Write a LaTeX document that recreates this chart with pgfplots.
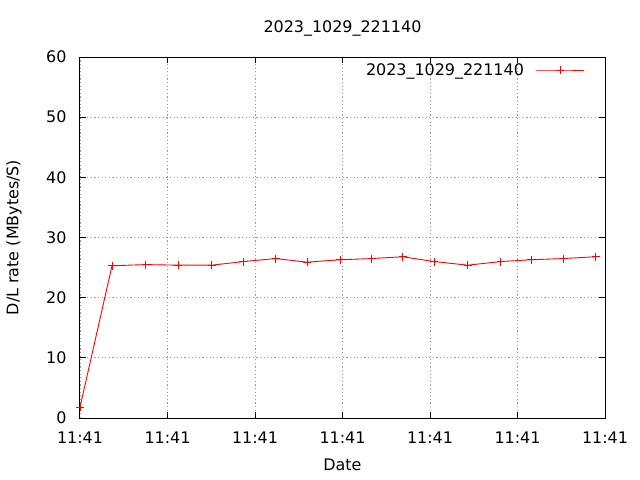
\documentclass[border=0pt]{standalone}
\usepackage{fontspec}
\setmainfont{DejaVu Sans}
\usepackage{pgfplots}
\pgfplotsset{compat=1.18}
\begin{document}
\begin{tikzpicture}
\begin{axis}[
  scale only axis,
  width=525bp, height=361bp,
  xmin=0, xmax=525, ymin=0, ymax=60,
  font=\fontsize{16}{19}\selectfont,
  /pgf/number format/assume math mode=true,
  xtick={0,87.5,175,262.5,350,437.5,525},
  xticklabels={11:41,11:41,11:41,11:41,11:41,11:41,11:41},
  ytick={0,10,20,30,40,50,60},
  tick align=inside,
  major tick length=6bp,
  axis line style={black, line width=1bp},
  tick style={black, line width=1bp},
  grid=major,
  major grid style={gray!80, dash pattern=on 1.2bp off 2.4bp, line width=0.8bp},
  title={2023\_1029\_221140},
  title style={at={(axis description cs:0.5,1)}, anchor=base, yshift=19bp, inner sep=0pt},
  xlabel={Date},
  xlabel style={at={(axis description cs:0.5,0)}, anchor=base, yshift=-52bp, inner sep=0pt},
  ylabel={D/L rate (MBytes/S)},
  ylabel style={at={(axis description cs:0,0.5)}, anchor=center, yshift=66bp, inner sep=0pt},
  yticklabel style={xshift=-10bp},
  xticklabel style={yshift=-10bp},
  legend plot pos=right,
  legend cell align=right,
  legend style={draw=none, fill=none, inner sep=0pt, at={(axis description cs:0.962,0.964)}, anchor=east,
    /tikz/every odd column/.append style={column sep=10bp}},
  legend image code/.code={\draw[mark repeat=2,mark phase=2] plot coordinates {(0bp,0bp) (24bp,0bp) (48bp,0bp)};},
]
\addplot[red, line width=0.9bp, mark=+, mark size=4bp, mark options={line width=0.9bp}] coordinates {
(0,1.8) (32,25.3) (65.7,25.5) (98.3,25.4) (131.7,25.4) (163.3,26.0) (195.7,26.5) (227,25.9) (260,26.3)
(291.7,26.5) (322.7,26.8) (354.3,26.0) (387.7,25.4) (420.7,26.0) (451,26.3) (483.3,26.5) (515.7,26.8)
};
\addlegendentry{2023\_1029\_221140}
\end{axis}
\pgfresetboundingbox
\path[use as bounding box] (-80bp,-62bp) rectangle (560bp,418bp);
\end{tikzpicture}
\end{document}
